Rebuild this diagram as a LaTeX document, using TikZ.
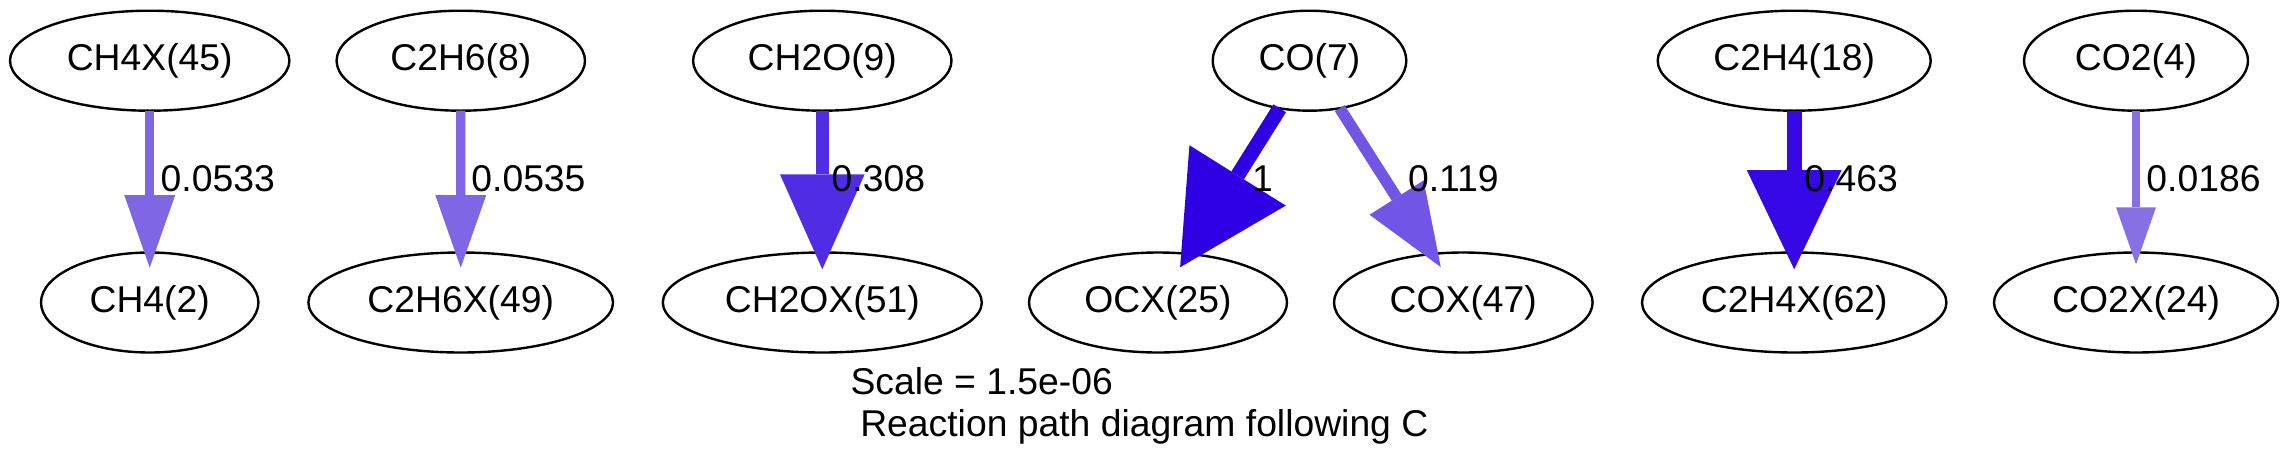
\documentclass[tikz,border=0pt]{standalone}
\usepackage{fontspec}
\setmainfont{Liberation Sans}
\usetikzlibrary{shapes.geometric,arrows.meta}
\definecolor{eA}{RGB}{127,102,228}
\definecolor{eB}{RGB}{80,45,229}
\definecolor{eC}{RGB}{46,0,228}
\definecolor{eD}{RGB}{113,85,228}
\definecolor{eE}{RGB}{53,8,229}
\definecolor{eF}{RGB}{133,112,228}
\tikzset{
  species/.style={ellipse, draw=black, line width=2.4pt, inner sep=0pt, outer sep=0pt,
    minimum height=100pt, font=\fontsize{37.3pt}{44pt}\selectfont},
  fluxedge/.style n args={5}{draw=#1, line width=#2,
    -{Triangle[length=#3, width=#4, line width=0pt]}, shorten >=#5},
  lbl/.style={anchor=base west, inner sep=0pt, outer sep=0pt,
    font=\fontsize{37.3pt}{44pt}\selectfont}
}
\begin{document}
\begin{tikzpicture}[x=1pt, y=-1pt]
\useasboundingbox (0,0) rectangle (2288,469);
% top row
\node[species, minimum width=279.4pt] (ch4x) at (149.7,60.7) {CH4X(45)};
\node[species, minimum width=248.4pt] (c2h6) at (460.8,60.7) {C2H6(8)};
\node[species, minimum width=258.4pt] (ch2o) at (822.3,60.7) {CH2O(9)};
\node[species, minimum width=193.6pt] (co) at (1309.5,60.7) {CO(7)};
\node[species, minimum width=273pt] (c2h4) at (1794.2,60.7) {C2H4(18)};
\node[species, minimum width=224pt] (co2) at (2136,60.7) {CO2(4)};
% bottom row
\node[species, minimum width=217.4pt] (ch4) at (149.7,302.5) {CH4(2)};
\node[species, minimum width=304.6pt] (c2h6x) at (460.7,302.5) {C2H6X(49)};
\node[species, minimum width=319pt] (ch2ox) at (822.3,302.5) {CH2OX(51)};
\node[species, minimum width=258pt] (ocx) at (1158,302.5) {OCX(25)};
\node[species, minimum width=258.6pt] (cox) at (1463.3,302.5) {COX(47)};
\node[species, minimum width=304.4pt] (c2h4x) at (1794.2,302.5) {C2H4X(62)};
\node[species, minimum width=284pt] (co2x) at (2136,302.5) {CO2X(24)};
% edges
\draw[fluxedge={eA}{9.3pt}{72.7pt}{51pt}{-15.2pt}] (ch4x) -- (ch4);
\draw[fluxedge={eA}{9.3pt}{72.7pt}{51pt}{-15.2pt}] (c2h6) -- (c2h6x);
\draw[fluxedge={eB}{13.3pt}{95pt}{84.7pt}{-16.8pt}] (ch2o) -- (ch2ox);
\draw[fluxedge={eC}{14.8pt}{108.3pt}{113.7pt}{-15.7pt}] (co) -- (ocx);
\draw[fluxedge={eD}{11.5pt}{82.3pt}{64pt}{-15.5pt}] (co) -- (cox);
\draw[fluxedge={eE}{15pt}{99.3pt}{95pt}{-16.8pt}] (c2h4) -- (c2h4x);
\draw[fluxedge={eF}{8.3pt}{57pt}{40pt}{-11.8pt}] (co2) -- (co2x);
% edge labels
\node[lbl] (l1) at (160.7,191.7) {0.0533};
\node[lbl] (l2) at (471.4,191.7) {0.0535};
\node[lbl] (l3) at (831.7,191.7) {0.308};
\node[lbl] (l4) at (1252,191.7) {1};
\node[lbl] (l5) at (1408,191.7) {0.119};
\node[lbl] (l6) at (1804.4,191.7) {0.463};
\node[lbl] (l7) at (2146.4,191.7) {0.0186};
% title
\node[lbl] (t1) at (850.5,394) {Scale = 1.5e-06};
\node[lbl] (t2) at (860.3,436.7) {Reaction path diagram following C};
\end{tikzpicture}
\end{document}
